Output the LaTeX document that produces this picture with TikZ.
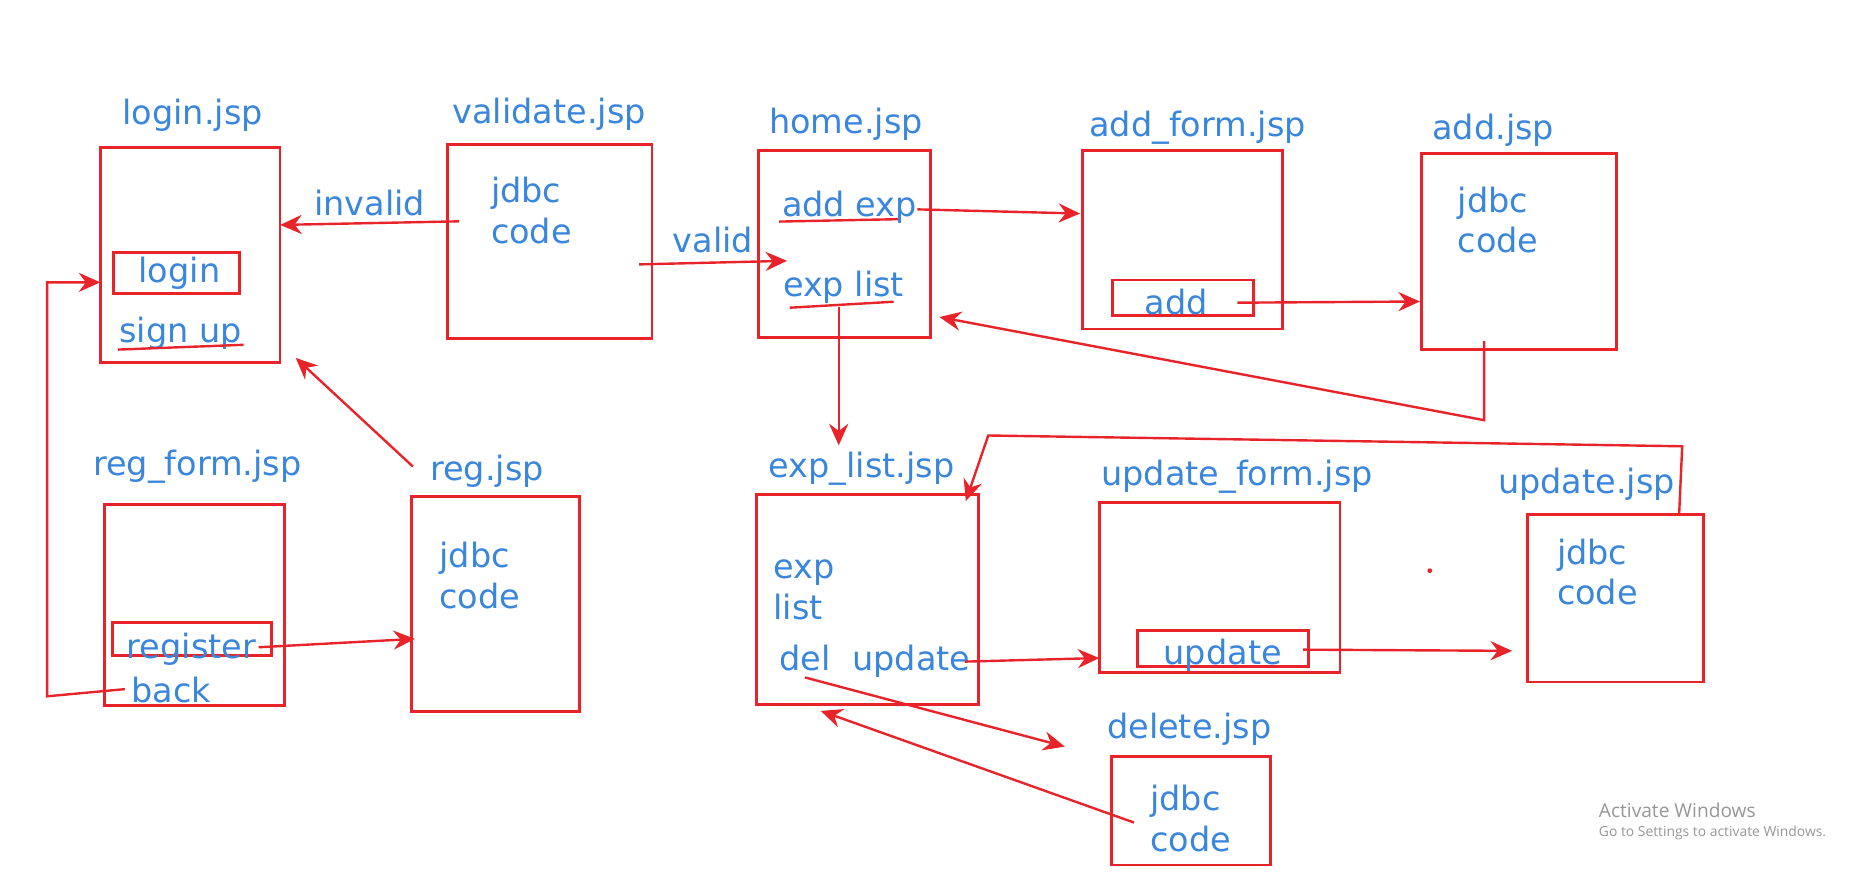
\documentclass[tikz,border=0pt]{standalone}
\usepackage{fontspec}
\setmainfont{DejaVu Sans}
\newfontfamily\winfont{Open Sans}
\usetikzlibrary{arrows.meta, calc}
\definecolor{pagered}{RGB}{232,35,42}
\definecolor{textblue}{RGB}{58,134,220}
\definecolor{markgray}{RGB}{150,150,150}

\begin{document}
\begin{tikzpicture}[x=0.5pt, y=-0.5pt,
		>={Stealth[length=9pt, width=8pt, inset=3pt]},   %Pfeilspitzen
		jsp/.style={draw=pagered, line width=1.2pt, inner sep=0pt},
		btn/.style={draw=pagered, line width=1.2pt, inner sep=0pt},
		lbl/.style={text=textblue, font=\fontsize{14}{17}\selectfont, inner sep=1pt, text height=10.5pt, text depth=3.3pt, yshift=-1.5pt},
		codetxt/.style={text=textblue, font=\fontsize{14}{17}\selectfont, inner sep=0pt, align=left, anchor=west},
		link/.style={draw=pagered, line width=1pt},
		winmark/.style={text=markgray, font=\winfont\fontsize{8}{9}\selectfont, inner sep=0pt, anchor=west}]
	\useasboundingbox (0,0) rectangle (1568,737);
	% Seiten zeichnen
	\node[jsp, minimum width=75pt, minimum height=90pt] (login) at (159,213) {};
	\node[jsp, minimum width=85.5pt, minimum height=81pt] (validate) at (459.5,202) {};
	\node[jsp, minimum width=72pt, minimum height=78pt] (home) at (706,204) {};
	\node[jsp, minimum width=83.5pt, minimum height=74.5pt] (addform) at (988.5,200.5) {};
	\node[jsp, minimum width=81.5pt, minimum height=82pt] (add) at (1269.5,210) {};
	\node[jsp, minimum width=75.5pt, minimum height=84pt] (regform) at (162.5,506) {};
	\node[jsp, minimum width=70pt, minimum height=90pt] (reg) at (414,505) {};
	\node[jsp, minimum width=93pt, minimum height=88pt] (explist) at (725,501) {};
	\node[jsp, minimum width=100.5pt, minimum height=71pt] (updform) at (1019.5,491) {};
	\node[jsp, minimum width=73.5pt, minimum height=70pt] (update) at (1350.5,500) {};
	\node[jsp, minimum width=66.5pt, minimum height=45.5pt] (delete) at (995.5,677.5) {};
	% Buttons
	\node[btn, minimum width=52.5pt, minimum height=17pt] (loginbtn) at (147.5,228) {};
	\node[btn, minimum width=66.5pt, minimum height=14pt] (regbtn) at (160.5,534) {};
	\node[btn, minimum width=59pt, minimum height=15pt] (addbtn) at (989,249) {};
	\node[btn, minimum width=71.5pt, minimum height=15pt] (updbtn) at (1022.5,542) {};
	% Seitennamen
	\node[lbl] (login-t) at (161,94) {login.jsp};
	\node[lbl] (validate-t) at (459,93) {validate.jsp};
	\node[lbl] (home-t) at (707,101) {home.jsp};
	\node[lbl] (addform-t) at (1001,104) {add\_form.jsp};
	\node[lbl] (add-t) at (1248,106) {add.jsp};
	\node[lbl] (regform-t) at (165,387) {reg\_form.jsp};
	\node[lbl] (reg-t) at (407,391) {reg.jsp};
	\node[lbl] (explist-t) at (720,389) {exp\_list.jsp};
	\node[lbl] (updform-t) at (1034,396) {update\_form.jsp};
	\node[lbl] (update-t) at (1326,402) {update.jsp};
	\node[lbl] (delete-t) at (994,607) {delete.jsp};
	% Inhalte
	\foreach \n/\xx/\yy in {validate/410/176, add/1218/184, reg/367/481, update/1301/478, delete/961/684}
		\node[codetxt] (\n-code) at (\xx,\yy) {jdbc\\code};
	\node[codetxt] (explist-txt) at (646,493) {exp\\list};
	\node[lbl] (logintxt) at (150,226) {login};
	\node[lbl] (signup) at (151,276) {sign up};
	\node[lbl] (addexp) at (710,171) {add exp};
	\node[lbl] (explink) at (705,238) {exp list};
	\node[lbl] (register) at (160,540) {register};
	\node[lbl] (back) at (143,577) {back};
	\node[lbl, anchor=west] (del) at (649,550) {del};
	\node[lbl, anchor=west] (updlink) at (710,550) {update};
	\node[lbl] (addtxt) at (983,253) {add};
	\node[lbl] (updtxt) at (1022,545) {update};
	% Unterstreichungen
	\draw[link] ($(signup.south west)+(1,-3)$) -- ($(signup.south east)+(-1,-7)$);
	\draw[link] ($(addexp.south west)+(0,-5)$) -- ($(addexp.south east)+(-18,-7)$);
	\draw[link] ($(explink.south west)+(8,0)$) -- ($(explink.south east)+(-11,-5)$);
	% Pfeile
	\coordinate (upcorner) at (1406,373);
	\coordinate (upbend) at (826,364);
	\draw[link, ->] ($(validate.west)+(11,-17)$) -- node[lbl, above] (invalid) {invalid} ($(login.east)+(-1,-25)$);
	\draw[link, ->] ($(validate.east)+(-12,19)$) -- node[lbl, above=1pt] (valid) {valid} ($(home.west)+(25,14)$);
	\draw[link, ->] ($(addexp.east)+(-2,1)$) -- ($(addform.west)+(-1,-22)$);
	\draw[link, ->] ($(addbtn.east)+(-15,4)$) -- ($(add.west)+(0,42)$);
	\draw[link, ->] ($(add.south)+(-29,-8)$) -- ++(0,66) -- ($(home.east)+(6,61)$);
	\draw[link, ->] ($(explink.south)+(-4,-1)$) -- ++(0,116);
	\draw[link, ->] ($(update.north)+(53,0)$) -- (upcorner) -- (upbend) -- ($(explist.north east)+(-12,7)$);
	\draw[link, ->] ($(updlink.east)+(-7,0)$) -- ($(updform.west)+(1,59)$);
	\draw[link, ->] ($(updbtn.east)+(-6,1)$) -- ($(update.west)+(-12,44)$);
	\draw[link, ->] ($(del.south)+(0,-3)$) -- ($(delete-t.west)+(-33,14)$);
	\draw[link, ->] ($(delete.west)+(20,10)$) -- ($(explist.south)+(-39,4)$);
	\draw[link, ->] ($(regbtn.east)+(-12,7)$) -- ($(reg.west)+(4,29)$);
	\draw[link, ->] ($(back.west)+(-3,-4)$) -- ++(-65,6) |- ($(login.west)+(1,23)$);
	\draw[link, ->] ($(reg-t.west)+(-12,-4)$) -- ($(login.south east)+(12,-5)$);
	% Rest
	\fill[pagered] (1195,477) circle (1pt);
	\node[winmark] (activate) at (1336,677) {Activate Windows};
	\node[winmark, font=\winfont\fontsize{5.8}{7}\selectfont] (gosettings) at (1336,696) {Go to Settings to activate Windows.};
\end{tikzpicture}
\end{document}
